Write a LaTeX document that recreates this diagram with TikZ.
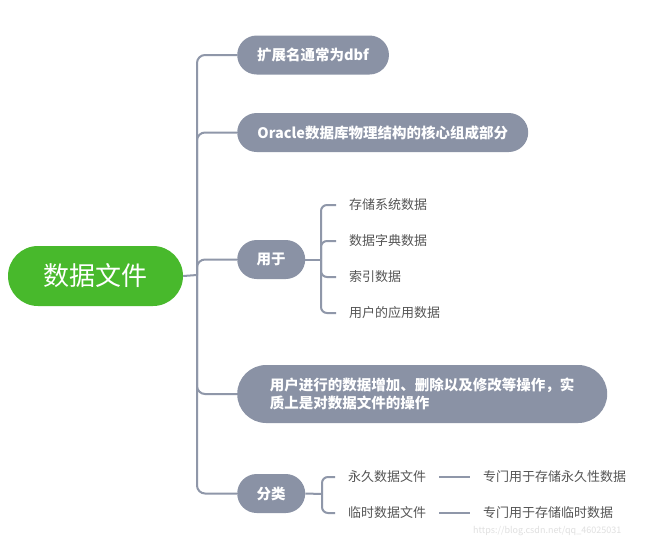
\documentclass[tikz,border=0pt]{standalone}
\usepackage{fontspec}
\setmainfont{Noto Sans CJK SC}
\usetikzlibrary{calc}
\definecolor{pillgray}{HTML}{8A92A5}
\definecolor{linegray}{HTML}{8F97A9}
\definecolor{rootgreen}{HTML}{48B92C}
\definecolor{txtgray}{HTML}{555555}
\begin{document}
\begin{tikzpicture}[x=1pt,y=-1pt,
  pill/.style={draw=none,fill=pillgray,text=white,rounded corners=19.5pt,
    minimum height=39pt,inner xsep=20pt,inner ysep=0pt,anchor=west,
    font=\fontsize{14.5}{18}\selectfont\bfseries},
  leaf/.style={anchor=west,inner xsep=13pt,inner ysep=2pt,text=txtgray,
    font=\fontsize{13}{16}\selectfont},
  conn/.style={draw=linegray,line width=2pt},
  trunkbend/.style={conn,rounded corners=8pt},
  smallbend/.style={conn,rounded corners=6pt}]
\useasboundingbox (0,0) rectangle (650,542);
\fill[white] (0,0) rectangle (650,542);
% root
\node[fill=rootgreen,text=white,rounded corners=30pt,minimum width=175pt,
  minimum height=60pt,inner sep=0pt,font=\fontsize{26}{30}\selectfont] (root) at (95.5,276) {数据文件};
\coordinate (j) at (197,275);
% branches
\node[pill,minimum width=151pt] (b1) at (237,55) {扩展名通常为dbf};
\node[pill,minimum width=291pt] (b2) at (237,132.5) {Oracle数据库物理结构的核心组成部分};
\node[pill,minimum width=68pt,inner xsep=0pt] (b3) at (237,259.5) {用于};
\node[pill,minimum width=370pt,minimum height=58pt,rounded corners=29pt,inner xsep=29pt,align=left] (b4) at (237,394) {用户进行的数据增加、删除以及修改等操作，实\\质上是对数据文件的操作};
\node[pill,minimum width=68pt,inner xsep=0pt] (b5) at (237,493.5) {分类};
\draw[conn] (root.east) -- (j);
\draw[trunkbend] (j) |- (b1.west);
\draw[trunkbend] (j) |- (b2.west);
\draw[trunkbend] (j) |- (b3.west);
\draw[trunkbend] (j) |- (b4.west);
\draw[trunkbend] (j) |- (b5.west);
% children of 用于
\coordinate (k) at (321,259.5);
\node[leaf] (c1) at (336,205) {存储系统数据};
\node[leaf] (c2) at (336,241) {数据字典数据};
\node[leaf] (c3) at (336,277) {索引数据};
\node[leaf] (c4) at (336,313) {用户的应用数据};
\draw[conn] (b3.east) -- (k);
\foreach \c in {c1,c2,c3,c4} \draw[smallbend] (k) |- (\c.west);
% children of 分类
\coordinate (m) at (322,494);
\node[leaf] (d1) at (335,477) {永久数据文件};
\node[leaf] (d2) at (335,513) {临时数据文件};
\node[leaf] (e1) at (470,477) {专门用于存储永久性数据};
\node[leaf] (e2) at (470,513) {专门用于存储临时数据};
\draw[conn] (b5.east) -- (m);
\draw[smallbend] (m) |- (d1.west);
\draw[smallbend] (m) |- (d2.west);
\draw[conn,line width=1.6pt] (d1.east) -- (e1.west);
\draw[conn,line width=1.6pt] (d2.east) -- (e2.west);
% watermark
\node[anchor=west,text=black!12,font=\fontsize{9}{10}\selectfont,inner sep=0pt] (wm) at (473,531) {https://blog.csdn.net/qq\_46025031};
\end{tikzpicture}
\end{document}
